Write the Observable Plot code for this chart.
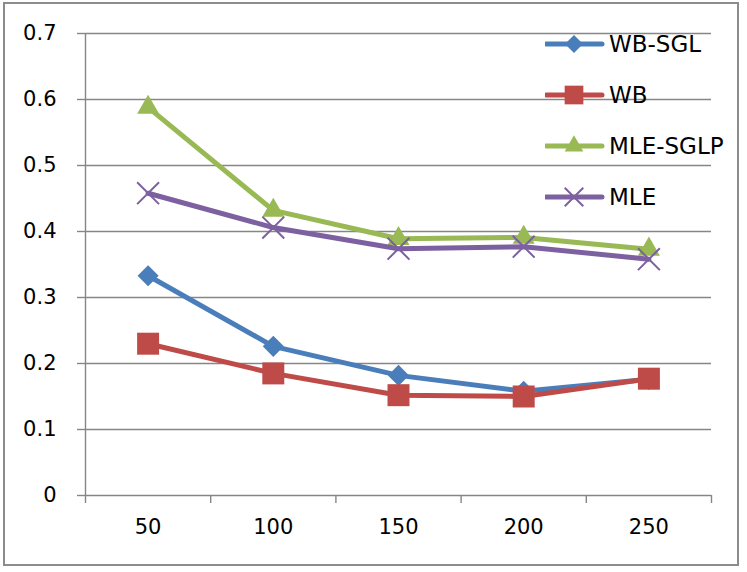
<!DOCTYPE html>
<html><head><meta charset="utf-8">
<script src="https://cdn.jsdelivr.net/npm/d3@7"></script>
<script src="https://cdn.jsdelivr.net/npm/@observablehq/plot@0.6"></script>
<style>
html,body{margin:0;padding:0;background:#fff;}
#wrap{position:relative;width:747px;height:572px;overflow:hidden;font-family:"DejaVu Sans",sans-serif;}
#border{position:absolute;left:3px;top:2px;width:736px;height:564px;border:2px solid #8c8c8c;box-sizing:border-box;pointer-events:none;}
#legend{position:absolute;left:545px;top:0;}
.row{position:absolute;left:0;height:30px;white-space:nowrap;}
.row svg{position:absolute;left:0;top:0;}
.row span{position:absolute;left:64px;top:0;line-height:30px;font-size:23px;color:#000;}
</style></head>
<body><div id="wrap"><div id="border"></div><div id="legend"></div></div>
<script>
const sizes = [50, 100, 150, 200, 250];
const xBoundaries = [25, 75, 125, 175, 225, 275];
const yTicks = [0, 0.1, 0.2, 0.3, 0.4, 0.5, 0.6, 0.7];
const seriesNames = ["WB-SGL", "WB", "MLE-SGLP", "MLE"];
const seriesColors = ["#4a7ebb", "#be4b48", "#98b954", "#7d60a0"];
const wbSgl = [0.333, 0.226, 0.182, 0.158, 0.176];
const wb = [0.230, 0.185, 0.152, 0.150, 0.177];
const mleSglp = [0.588, 0.432, 0.389, 0.391, 0.373];
const mle = [0.458, 0.406, 0.374, 0.377, 0.358];
const seriesValues = [wbSgl, wb, mleSglp, mle];
const symbols = ["diamond2", "square2", "triangle2", "times"];
const symbolR = [9.5, 14, 10.5, 10];

const symMap = {diamond2: d3.symbolDiamond2, square2: d3.symbolSquare2, triangle2: d3.symbolTriangle2, times: d3.symbolTimes};

const seriesMarks = [];
seriesNames.forEach((name, i) => {
  const data = sizes.map((s, j) => ({size: s, value: seriesValues[i][j], series: name}));
  seriesMarks.push(Plot.line(data, {x: "size", y: "value", stroke: seriesColors[i], strokeWidth: 5}));
  if (symbols[i] === "times") {
    seriesMarks.push(Plot.dot(data, {x: "size", y: "value", symbol: symbols[i], r: symbolR[i], stroke: seriesColors[i], strokeWidth: 2, fill: "none"}));
  } else {
    seriesMarks.push(Plot.dot(data, {x: "size", y: "value", symbol: symbols[i], r: symbolR[i], fill: seriesColors[i], stroke: "none"}));
  }
});

const chart = Plot.plot({
  width: 747, height: 572,
  marginLeft: 85, marginRight: 36, marginTop: 33, marginBottom: 77,
  style: {fontFamily: "DejaVu Sans", fontSize: "21px", color: "#000", background: "transparent"},
  x: {type: "linear", domain: [25, 275]},
  y: {domain: [0, 0.7]},
  marks: [
    Plot.gridY(yTicks, {stroke: "#868686", strokeOpacity: 1, strokeWidth: 1.4}),
    Plot.ruleX([25], {stroke: "#868686", strokeWidth: 1.4}),
    Plot.axisY(yTicks, {tickSize: 8, tickPadding: 21, stroke: "#868686", strokeWidth: 1.4, fill: "#000", fontSize: 21, label: null, tickFormat: d => String(+d.toFixed(1))}),
    Plot.axisX(xBoundaries, {tickSize: 8, stroke: "#868686", strokeWidth: 1.4, label: null, tickFormat: () => ""}),
    Plot.axisX(sizes, {tickSize: 0, tickPadding: 24, fill: "#000", fontSize: 21, label: null, tickFormat: d => String(d)}),
    ...seriesMarks
  ]
});
document.getElementById("wrap").insertBefore(chart, document.getElementById("border"));
chart.style.position = "absolute"; chart.style.left = "0"; chart.style.top = "0";

const legendY = [44, 95, 146, 197];
const legend = document.getElementById("legend");
seriesNames.forEach((name, i) => {
  const row = document.createElement("div");
  row.className = "row";
  row.style.top = (legendY[i] - 15) + "px";
  const r = symbolR[i] * 0.85;
  const path = d3.symbol(symMap[symbols[i]], Math.PI * r * r)();
  const isTimes = symbols[i] === "times";
  row.innerHTML = `<svg width="62" height="30"><line x1="1" x2="57" y1="15" y2="15" stroke="${seriesColors[i]}" stroke-width="5" stroke-linecap="round"/>` +
    `<path transform="translate(29,15)" d="${path}" ${isTimes ? `fill="none" stroke="${seriesColors[i]}" stroke-width="2"` : `fill="${seriesColors[i]}"`}/></svg><span>${name}</span>`;
  legend.appendChild(row);
});
</script>
</body></html>
